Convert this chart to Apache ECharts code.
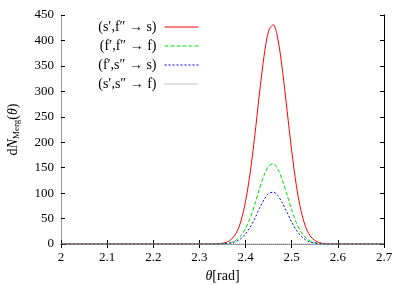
<!DOCTYPE html>
<html><head><meta charset="utf-8">
<script src="https://cdn.jsdelivr.net/npm/echarts@6/dist/echarts.min.js"></script>
<style>html,body{margin:0;padding:0;background:#fff}#c{width:407px;height:285px}</style>
</head><body><div id="c"></div>
<script>
var xs    = [2.00, 2.10, 2.20, 2.30, 2.32, 2.34, 2.35, 2.36, 2.37, 2.38, 2.39, 2.40, 2.41, 2.42, 2.43, 2.44, 2.45, 2.46, 2.47, 2.48, 2.49, 2.50, 2.51, 2.52, 2.53, 2.54, 2.55, 2.56, 2.57, 2.58, 2.60, 2.70];
var sfS   = [0, 0, 0, 0, 0.04, 0.5, 1.5, 4.0, 9.9, 22, 45, 84, 140, 213, 295, 369, 419, 431, 403, 341, 262, 183, 115, 66, 34, 16, 6.9, 2.7, 0.9, 0.3, 0, 0];
var ffF   = [0, 0, 0, 0, 0.01, 0.2, 0.5, 1.5, 3.6, 8.1, 16.5, 30.7, 51, 78, 108, 135, 153, 158, 147, 125, 96, 67, 42, 24, 12.4, 5.9, 2.5, 1.0, 0.3, 0.1, 0, 0];
var fsS   = [0, 0, 0, 0, 0, 0.1, 0.35, 0.9, 2.3, 5.2, 10.6, 19.8, 33, 50, 70, 87, 99, 102, 95, 80, 62, 43, 27, 15.6, 8, 3.8, 1.6, 0.6, 0.2, 0, 0, 0];
var ssF   = [0, 0, 0, 0, 0, 0, 0, 0, 0, 0, 0, 0, 0, 0, 0, 0, 0, 0, 0, 0, 0, 0, 0, 0, 0, 0, 0, 0, 0, 0, 0, 0];
var names = ['(s\u2032,f\u2033 \u2192 s)', '(f\u2032,f\u2033 \u2192 f)', '(f\u2032,s\u2033 \u2192 s)', '(s\u2032,s\u2033 \u2192 f)'];
var xTickLabels = ['2', '2.1', '2.2', '2.3', '2.4', '2.5', '2.6', '2.7'];
var yTickLabels = ['0', '50', '100', '150', '200', '250', '300', '350', '400', '450'];

var FONT = 'Liberation Serif';
function pairs(ys){ return xs.map(function(x,i){ return [x, ys[i]]; }); }
var chart = echarts.init(document.getElementById('c'), null, {renderer:'canvas'});
var styles = [
  {color:'#ff0000', type:'solid'},
  {color:'#00e000', type:[4,2]},
  {color:'#0000ff', type:[2,2]},
  {color:'#888888', type:[1,1]}
];
var data = [sfS, ffF, fsS, ssF];
var series = data.map(function(d,i){
  return {
    name: names[i], type:'line', data: pairs(d), symbol:'none', smooth:0.3,
    lineStyle:{color:styles[i].color, width:1, type:styles[i].type},
    itemStyle:{color:styles[i].color}, animation:false, z: 3+i
  };
});
var axText = {fontFamily:FONT, fontSize:13, color:'#000'};
chart.setOption({
  animation:false,
  grid:{left:61, right:23, top:15, bottom:41, containLabel:false, outerBoundsMode:'none'},
  legend:{
    orient:'vertical', right:208, top:20, align:'right', padding:0,
    itemWidth:34, itemHeight:14, itemGap:5,
    data:names,
    itemStyle:{opacity:0},
    lineStyle:{width:1},
    textStyle:{fontFamily:FONT, fontSize:14, color:'#000', padding:[0,3,0,0]}
  },
  xAxis:[{
    type:'value', min:2, max:2.7, interval:0.1,
    axisLine:{lineStyle:{color:'#000', width:1}},
    axisTick:{inside:true, length:4, lineStyle:{color:'#000'}},
    axisLabel:Object.assign({margin:7, formatter:function(v){ return xTickLabels[Math.round((v-2)*10)]; }}, axText),
    splitLine:{show:false},
    name:'{t|\u03b8}{n|[rad]}', nameLocation:'middle', nameGap:22,
    nameTextStyle:{color:'#000', rich:{t:{fontFamily:FONT, fontStyle:'italic', fontSize:14, color:'#000'}, n:{fontFamily:FONT, fontSize:14, color:'#000'}}}
  },{
    type:'value', position:'top', min:2, max:2.7, interval:0.1,
    axisLine:{lineStyle:{color:'#999', width:1}},
    axisTick:{inside:true, length:4, lineStyle:{color:'#000'}},
    axisLabel:{show:false}, splitLine:{show:false}
  }],
  yAxis:[{
    type:'value', min:0, max:450, interval:50,
    axisLine:{show:true, lineStyle:{color:'#999', width:1}},
    axisTick:{show:true, inside:true, length:4, lineStyle:{color:'#000'}},
    axisLabel:Object.assign({margin:7, formatter:function(v){ return yTickLabels[Math.round(v/50)]; }}, axText),
    splitLine:{show:false},
    name:'{d|d}{n|N}{s|Merg}{d|(}{t|\u03b8}{d|)}', nameLocation:'middle', nameGap:40, nameRotate:90,
    nameTextStyle:{color:'#000', rich:{
      d:{fontFamily:FONT, fontSize:14, color:'#000'},
      n:{fontFamily:FONT, fontSize:14, fontStyle:'italic', color:'#000'},
      t:{fontFamily:FONT, fontSize:14, fontStyle:'italic', color:'#000'},
      s:{fontFamily:FONT, fontSize:9, padding:[7,0,0,0], color:'#000'}
    }}
  },{
    type:'value', position:'right', min:0, max:450, interval:50,
    axisLine:{show:true, lineStyle:{color:'#000', width:1}},
    axisTick:{show:true, inside:true, length:4, lineStyle:{color:'#000'}},
    axisLabel:{show:false}, splitLine:{show:false}
  }],
  series:series
});
</script></body></html>
